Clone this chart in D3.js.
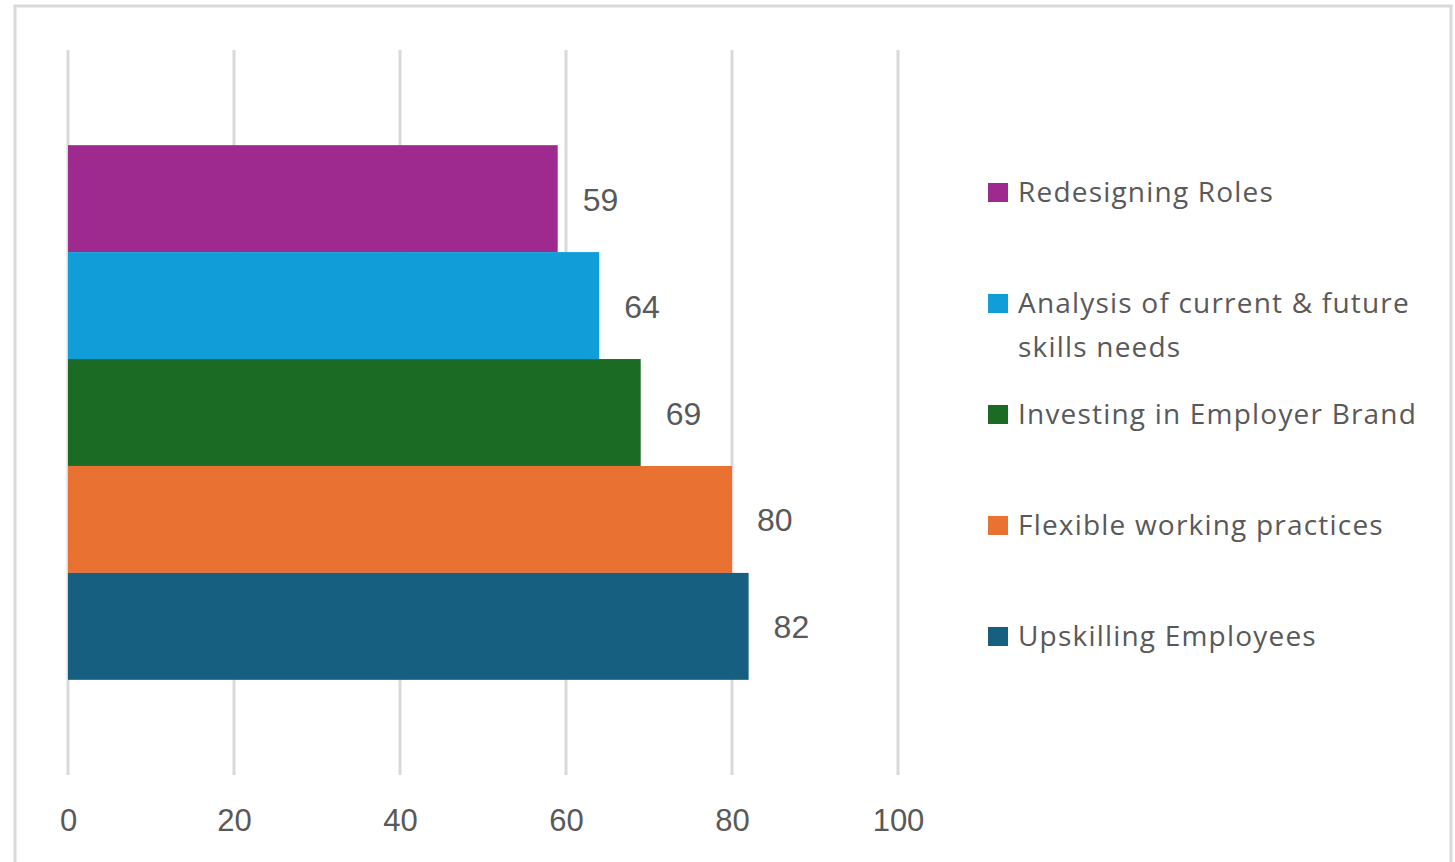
<!DOCTYPE html>
<html>
<head>
<meta charset="utf-8">
<script src="https://cdn.jsdelivr.net/npm/d3@7"></script>
<style>
  html, body { margin: 0; padding: 0; background: #fff; }
  #chart { width: 1455px; height: 862px; }
</style>
</head>
<body>
<div id="chart"></div>
<script>
// series drawn top to bottom
const series = ["Redesigning Roles", "Analysis of current & future skills needs", "Investing in Employer Brand", "Flexible working practices", "Upskilling Employees"];
const values = [59, 64, 69, 80, 82];
const colors = ["#9e2a8f", "#109dd8", "#1b6b25", "#e97132", "#165f81"];
const xTicks = [0, 20, 40, 60, 80, 100];
// legend lines (long name wraps)
const legendLines = [["Redesigning Roles"], ["Analysis of current & future", "skills needs"], ["Investing in Employer Brand"], ["Flexible working practices"], ["Upskilling Employees"]];

const width = 1455, height = 862;

const svg = d3.select("#chart").append("svg")
    .attr("width", width)
    .attr("height", height);

// outer frame
svg.append("rect")
    .attr("x", 15).attr("y", 6)
    .attr("width", 1436).attr("height", 870)
    .attr("fill", "#fff")
    .attr("stroke", "#d9d9d9")
    .attr("stroke-width", 3);

const x = d3.scaleLinear()
    .domain([0, 100])
    .range([68, 898]);

const y = d3.scaleBand()
    .domain(series)
    .range([50, 775])
    .paddingInner(0)
    .paddingOuter(0.89);

// gridlines
svg.append("g")
    .selectAll("line")
    .data(xTicks)
    .enter().append("line")
    .attr("x1", d => x(d)).attr("x2", d => x(d))
    .attr("y1", 50).attr("y2", 775)
    .attr("stroke", "#d9d9d9")
    .attr("stroke-width", 3);

// bars
svg.append("g")
    .selectAll("rect")
    .data(series)
    .enter().append("rect")
    .attr("x", x(0))
    .attr("y", d => y(d))
    .attr("width", (d, i) => x(values[i]) - x(0))
    .attr("height", y.bandwidth())
    .attr("fill", (d, i) => colors[i]);

// data labels
svg.append("g")
    .selectAll("text")
    .data(series)
    .enter().append("text")
    .attr("x", (d, i) => x(values[i]) + 25)
    .attr("y", d => y(d) + y.bandwidth() / 2 + 12)
    .attr("font-family", "Liberation Sans, Arial, sans-serif")
    .attr("font-size", 32)
    .attr("fill", "#595959")
    .text((d, i) => values[i]);

// x axis labels
const axis = svg.append("g")
    .attr("transform", "translate(0,775)")
    .call(d3.axisBottom(x).tickValues(xTicks).tickSize(0).tickPadding(34));
axis.select(".domain").remove();
axis.selectAll("text")
    .attr("font-family", "Liberation Sans, Arial, sans-serif")
    .attr("font-size", 31)
    .attr("fill", "#595959");

// legend
const legend = svg.append("g")
    .selectAll("g")
    .data(series)
    .enter().append("g")
    .attr("transform", (d, i) => `translate(988,${192 + i * 111})`);

legend.append("rect")
    .attr("x", 0).attr("y", -9)
    .attr("width", 20).attr("height", 19)
    .attr("fill", (d, i) => colors[i]);

legend.append("text")
    .attr("x", 30)
    .attr("y", 10)
    .attr("font-family", "Open Sans, sans-serif")
    .attr("font-size", 28)
    .attr("letter-spacing", 1.2)
    .attr("fill", "#595959")
    .selectAll("tspan")
    .data((d, i) => legendLines[i])
    .enter().append("tspan")
    .attr("x", 30)
    .attr("dy", (d, j) => j === 0 ? 0 : 44)
    .text(d => d);
</script>
</body>
</html>
